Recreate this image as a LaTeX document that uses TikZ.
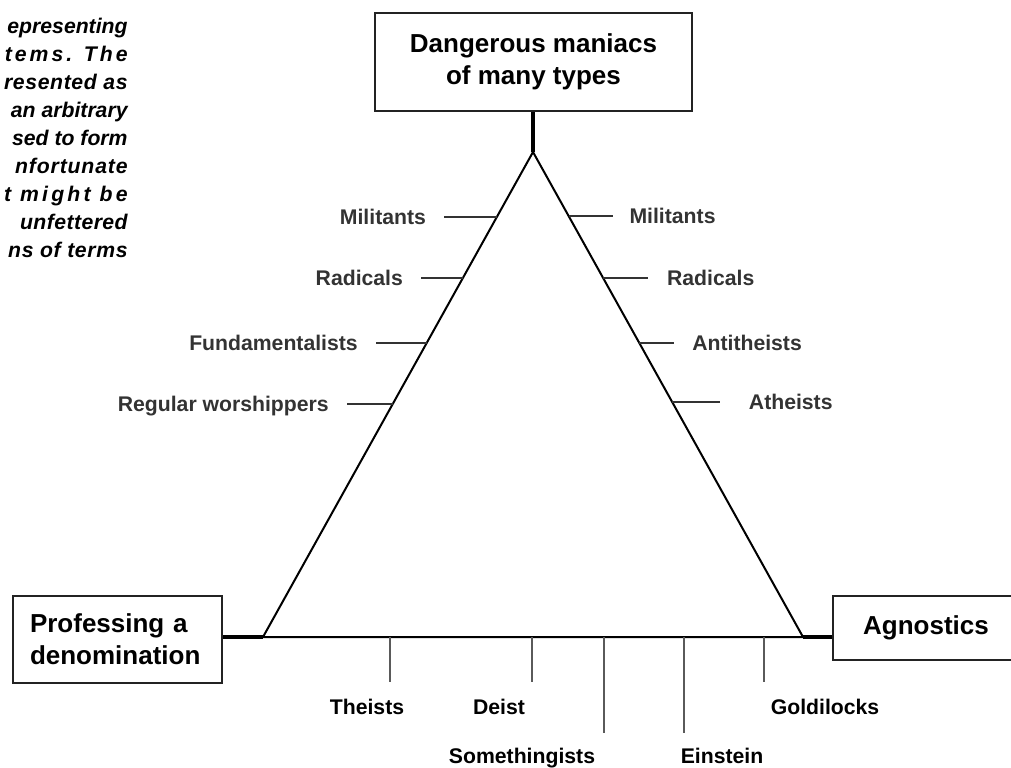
\documentclass[tikz,border=0pt]{standalone}
\usepackage{fontspec}
\setmainfont{Liberation Sans}
\usepackage{xcolor}
\usetikzlibrary{calc,positioning}
\definecolor{boxline}{RGB}{35,35,35}
\definecolor{tickgray}{RGB}{90,90,90}

\tikzset{
  catbox/.style={draw=boxline, line width=1.3pt, align=center, inner sep=0pt,
    font=\fontsize{13}{16}\selectfont\bfseries},
  sidelabel/.style={inner sep=0pt, font=\fontsize{10.6}{12}\selectfont\bfseries},
  note/.style={inner sep=0pt, font=\fontsize{10.6}{12}\selectfont\bfseries\itshape},
  tri/.style={line width=1pt},
  stub/.style={line width=1.8pt},
  sidetick/.style={line width=0.9pt, black!80},
  basetick/.style={line width=0.9pt, tickgray}
}

\begin{document}
\begin{tikzpicture}[x=0.5pt, y=-0.5pt]
  \useasboundingbox (0,0) rectangle (1011,767);
  \clip (0,0) rectangle (1011,767);
  % cut-off caption text at top left
  \foreach \txt/\ls [count=\i] in {epresenting/0, tems. The/14, resented as/3,
      an arbitrary/0, sed to form/0, nfortunate/4, t might be/15, unfettered/2, ns of terms/3}
    \node[note, anchor=base east] (note\i) at (128,5+28*\i) {\addfontfeature{LetterSpace=\ls}\txt};

  % corners of the triangle
  \coordinate (apex) at (533,152);
  \coordinate (lc) at (263,637);
  \coordinate (rc) at (803,637);

  % the three boxes
  \node[catbox, minimum width=158.5pt, minimum height=49pt] (maniacs) at (533.5,62)
    {Dangerous maniacs\\of many types};
  \node[catbox, minimum width=104.5pt, minimum height=43.5pt, align=left, text width=87.5pt]
    (professing) at (117.5,639.5) {Professing a\\denomination};
  \node[catbox, minimum width=93pt, minimum height=32pt] (agnostics) at (926,628) {Agnostics};

  \draw[tri] (apex) -- (lc) -- (rc) -- cycle;
  \draw[stub] (apex |- maniacs.south) -- (apex);
  \draw[stub] (professing.east |- lc) -- (lc);
  \draw[stub] (rc) -- (agnostics.west |- rc);

  % left side: believers
  \foreach \pos/\len/\txt [count=\i] in {0.134/53/Militants, 0.260/42/Radicals,
      0.394/51/Fundamentalists, 0.520/46/Regular worshippers}
    \draw[sidetick] ($(apex)!\pos!(lc)$) coordinate (lt\i) -- ++(-\len,0)
      node[sidelabel, anchor=base east, xshift=-8.5pt, yshift=-3.7pt] (ll\i) {\txt};

  % right side: non-believers
  \foreach \pos/\len/\gap/\txt [count=\i] in {0.132/44/8/Militants, 0.260/45/9/Radicals,
      0.394/35/8.5/Antitheists, 0.515/48/14/Atheists}
    \draw[sidetick] ($(apex)!\pos!(rc)$) coordinate (rt\i) -- ++(\len,0)
      node[sidelabel, anchor=base west, xshift=\gap pt, yshift=-3.7pt] (rl\i) {\txt};

  % along the base
  \foreach \x/\len/\lx/\ly/\txt [count=\i] in {390/45/367/714/Theists, 532/45/499/714/Deist,
      604/96/522/763/Somethingists, 684/96/722/763/Einstein, 764/45/825/714/Goldilocks}
  {
    \coordinate (bt\i) at (\x,637);
    \draw[basetick] (bt\i) -- ++(0,\len) coordinate (be\i);
    \node[sidelabel, anchor=base] (bl\i) at (\lx,\ly) {\txt};
  }
\end{tikzpicture}
\end{document}
